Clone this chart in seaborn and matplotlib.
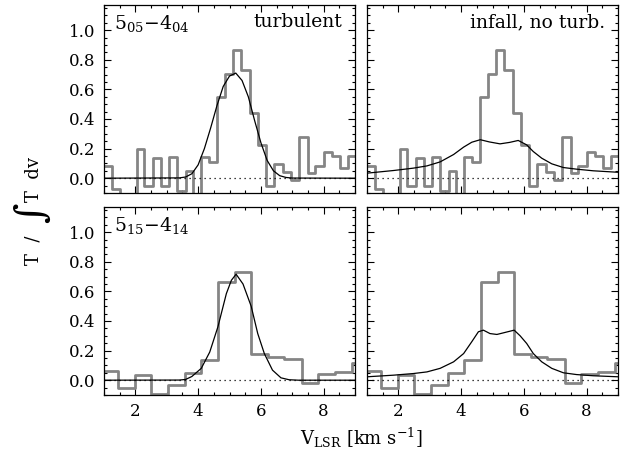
import numpy as np
import pandas as pd
import matplotlib
matplotlib.use("Agg")
import matplotlib.pyplot as plt
from matplotlib.ticker import MultipleLocator
import seaborn as sns

# channel edges [km/s] and normalised spectra (same data in both columns)
edges_505 = [0.98, 1.24, 1.51, 1.77, 2.04, 2.28, 2.55, 2.81, 3.07, 3.33, 3.60,
             3.84, 4.10, 4.34, 4.61, 4.87, 5.11, 5.37, 5.64, 5.90, 6.16, 6.43,
             6.69, 6.96, 7.22, 7.49, 7.73, 8.00, 8.26, 8.51, 8.79, 9.05]
spec_505 = [0.08, -0.07, -0.15, -0.15, 0.20, -0.05, 0.135, -0.05, 0.14, -0.085,
            0.05, -0.13, 0.146, 0.11, 0.55, 0.705, 0.867, 0.73, 0.44, 0.225,
            -0.05, 0.097, 0.045, -0.01, 0.28, 0.034, 0.083, 0.18, 0.15, 0.072, 0.153]

edges_515 = [0.93, 1.46, 1.98, 2.51, 3.04, 3.57, 4.10, 4.63, 5.16, 5.69, 6.22,
             6.75, 7.30, 7.83, 8.36, 8.89, 9.42]
spec_515 = [0.063, -0.05, 0.034, -0.095, -0.034, 0.05, 0.135, 0.66, 0.73, 0.18,
            0.158, 0.14, -0.018, 0.045, 0.052, 0.117]

# model curves
v_turb_505 = [1.0, 3.4, 3.6, 3.8, 4.0, 4.2, 4.4, 4.6, 4.8, 5.0, 5.2, 5.4, 5.6,
              5.8, 6.0, 6.2, 6.4, 6.6, 6.8, 7.0, 9.0]
m_turb_505 = [0.0, 0.002, 0.008, 0.03, 0.09, 0.2, 0.34, 0.49, 0.62, 0.69, 0.71,
              0.66, 0.55, 0.39, 0.24, 0.12, 0.05, 0.017, 0.005, 0.001, 0.0]

v_turb_515 = [1.0, 3.4, 3.6, 3.8, 4.1, 4.37, 4.63, 4.9, 5.06, 5.21, 5.43, 5.69,
              5.9, 6.11, 6.37, 6.64, 6.9, 7.2, 9.0]
m_turb_515 = [0.0, 0.001, 0.005, 0.025, 0.08, 0.19, 0.36, 0.585, 0.675, 0.716,
              0.65, 0.5, 0.315, 0.18, 0.068, 0.016, 0.003, 0.0, 0.0]

v_inf_505 = [1.0, 1.85, 2.48, 2.91, 3.33, 3.76, 4.08, 4.34, 4.61, 4.9, 5.24,
             5.55, 5.82, 6.09, 6.3, 6.57, 6.89, 7.26, 7.68, 8.21, 9.0]
m_inf_505 = [0.034, 0.052, 0.068, 0.083, 0.11, 0.16, 0.21, 0.243, 0.26, 0.245,
             0.232, 0.242, 0.255, 0.225, 0.18, 0.135, 0.097, 0.072, 0.061, 0.05, 0.04]

v_inf_515 = [1.0, 1.85, 2.48, 2.91, 3.33, 3.76, 4.08, 4.34, 4.55, 4.71, 4.92,
             5.14, 5.35, 5.69, 5.88, 6.09, 6.3, 6.57, 6.89, 7.26, 7.68, 8.21, 9.0]
m_inf_515 = [0.023, 0.034, 0.045, 0.056, 0.08, 0.124, 0.18, 0.26, 0.327, 0.338,
             0.315, 0.309, 0.32, 0.338, 0.30, 0.248, 0.18, 0.124, 0.08, 0.05,
             0.038, 0.03, 0.023]

sns.set_theme(style="ticks")
plt.rcParams["font.family"] = ["DejaVu Serif"]
plt.rcParams["mathtext.fontset"] = "dejavuserif"
plt.rcParams["text.color"] = "black"
plt.rcParams["xtick.labelcolor"] = "black"
plt.rcParams["ytick.labelcolor"] = "black"

fig = plt.figure(figsize=(6.27, 4.59), dpi=100)
W, H = 627, 459
boxes = {(0, 0): (104, 5), (0, 1): (367, 5), (1, 0): (104, 207), (1, 1): (367, 207)}

panels = {
    (0, 0): (edges_505, spec_505, v_turb_505, m_turb_505),
    (0, 1): (edges_505, spec_505, v_inf_505, m_inf_505),
    (1, 0): (edges_515, spec_515, v_turb_515, m_turb_515),
    (1, 1): (edges_515, spec_515, v_inf_515, m_inf_515),
}

axes = {}
for (r, c), (x0, y0) in boxes.items():
    ax = fig.add_axes([x0 / W, 1 - (y0 + 188) / H, 251 / W, 188 / H])
    axes[(r, c)] = ax
    edges, spec, vm, mm = panels[(r, c)]
    hist = pd.DataFrame({"v": edges, "T": spec + [spec[-1]]})
    sns.lineplot(data=hist, x="v", y="T", ax=ax, color="#858585", lw=2.0,
                 drawstyle="steps-post", estimator=None, sort=False)
    model = pd.DataFrame({"v": vm, "T": mm})
    sns.lineplot(data=model, x="v", y="T", ax=ax, color="black", lw=0.9,
                 estimator=None, sort=False)
    ax.axhline(0, color="black", lw=0.9, ls=(0, (1, 3)))
    ax.set_xlim(1, 9)
    ax.set_ylim(-0.1, 1.17)
    ax.xaxis.set_major_locator(MultipleLocator(2))
    ax.xaxis.set_minor_locator(MultipleLocator(0.5))
    ax.yaxis.set_major_locator(MultipleLocator(0.2))
    ax.yaxis.set_minor_locator(MultipleLocator(0.05))
    ax.tick_params(which="both", direction="in", top=True, right=True,
                   color="black", labelcolor="black", width=0.8, labelsize=12, pad=6)
    ax.tick_params(which="major", length=5)
    ax.tick_params(which="minor", length=2.5)
    ax.set_xlabel("")
    ax.set_ylabel("")
    for s in ax.spines.values():
        s.set_color("black")
        s.set_linewidth(0.9)
    if r == 0:
        ax.set_xticklabels([])
    if c == 1:
        ax.set_yticklabels([])
    else:
        ax.yaxis.set_major_formatter(matplotlib.ticker.FormatStrFormatter("%.1f"))

axes[(0, 0)].text(0.04, 0.955, r"5$_{05}$$-$4$_{04}$", transform=axes[(0, 0)].transAxes,
                  ha="left", va="top", fontsize=13.5)
axes[(0, 0)].text(0.95, 0.955, "turbulent", transform=axes[(0, 0)].transAxes,
                  ha="right", va="top", fontsize=13.5)
axes[(0, 1)].text(0.95, 0.955, "infall, no turb.", transform=axes[(0, 1)].transAxes,
                  ha="right", va="top", fontsize=13.5)
axes[(1, 0)].text(0.04, 0.955, r"5$_{15}$$-$4$_{14}$", transform=axes[(1, 0)].transAxes,
                  ha="left", va="top", fontsize=13.5)

# y label in three pieces so the integral sign can be drawn large
fig.text(34 / W, 1 - 250 / H, "T  /", rotation=90, ha="center", va="center", fontsize=13)
fig.text(33 / W, 1 - 213 / H, r"$\int$", rotation=90, ha="center", va="center", fontsize=20)
fig.text(34 / W, 1 - 180 / H, "T  dv", rotation=90, ha="center", va="center", fontsize=13)
fig.text(0.576, 0.046, r"V$_{\rm LSR}$ [km s$^{-1}$]", ha="center", va="center",
         fontsize=13)

fig.savefig("out.png", dpi=100)
